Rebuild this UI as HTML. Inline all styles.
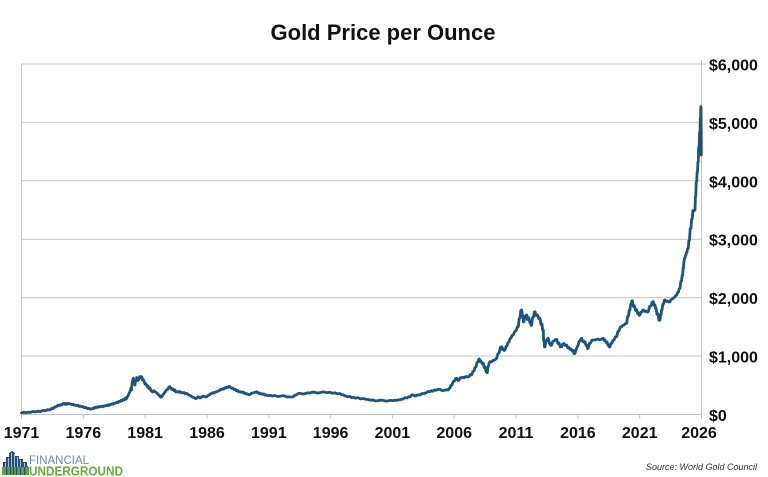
<!DOCTYPE html>
<html>
<head>
<meta charset="utf-8">
<style>
html,body{margin:0;padding:0;background:#fff;}
body{width:768px;height:477px;overflow:hidden;}
svg{display:block;}
</style>
</head>
<body>
<svg width="768" height="477" viewBox="0 0 768 477" xmlns="http://www.w3.org/2000/svg" font-family="'Liberation Sans', Arial, sans-serif">
  <rect x="0" y="0" width="768" height="477" fill="#fff"/>
  <!-- Title -->
  <text x="383" y="40" text-anchor="middle" font-size="22" font-weight="bold" fill="#111">Gold Price per Ounce</text>

  <!-- gridlines -->
  <g stroke="#c4c4c4" stroke-width="1">
    <line x1="21.5" y1="64" x2="706" y2="64"/>
    <line x1="21.5" y1="122.4" x2="701.5" y2="122.4"/>
    <line x1="21.5" y1="180.8" x2="701.5" y2="180.8"/>
    <line x1="21.5" y1="239.2" x2="701.5" y2="239.2"/>
    <line x1="21.5" y1="297.6" x2="701.5" y2="297.6"/>
    <line x1="21.5" y1="356" x2="701.5" y2="356"/>
    <line x1="21.5" y1="414.5" x2="701.5" y2="414.5"/>
    <line x1="21.5" y1="64" x2="21.5" y2="418.5"/>
    <line x1="701.5" y1="60" x2="701.5" y2="418.5"/>
  </g>
  <!-- x ticks -->
  <g stroke="#c4c4c4" stroke-width="1">
    <line x1="83.3" y1="414.5" x2="83.3" y2="418.5"/>
    <line x1="145.1" y1="414.5" x2="145.1" y2="418.5"/>
    <line x1="207" y1="414.5" x2="207" y2="418.5"/>
    <line x1="268.8" y1="414.5" x2="268.8" y2="418.5"/>
    <line x1="330.6" y1="414.5" x2="330.6" y2="418.5"/>
    <line x1="392.4" y1="414.5" x2="392.4" y2="418.5"/>
    <line x1="454.2" y1="414.5" x2="454.2" y2="418.5"/>
    <line x1="516" y1="414.5" x2="516" y2="418.5"/>
    <line x1="577.9" y1="414.5" x2="577.9" y2="418.5"/>
    <line x1="639.7" y1="414.5" x2="639.7" y2="418.5"/>
  </g>

  <!-- series -->
  <polyline fill="none" stroke="#1c5480" stroke-width="2.8" stroke-linejoin="round" stroke-linecap="round" points="
21.5,413 24,412.2 26,412.8 28,412.1 30,412.5 33,411.5 35,411.9 38,411.2 40,411.7 43,410.4 45,410.8 48,409.6 50,410 52,408.2 53,408.6 55,406.8 56,407 58,405.2 59,405.8 60.5,404.6 61.7,405 63,403.5 64,404.1 65,403.4 66,404.5 67,403.3 68,403.9 69,403.5 70,404 72,404.6 73,404.2 74,405.2 75,405 77,405.8 78,405.3 79,406.4 80,406 82,406.9 83,406.5 84.5,407.8 86,407.5 87.5,408.6 89,408.3 90.5,409.2 91.7,409 93,408 94,408.4 95,407.3 96,407.5 97,406.9 98,407.4 99,406.5 100,406.7 102,406.3 103,406.7 104,405.8 105,406 107,405.2 108,405.6 109,404.6 110,405 112,403.8 113,404.3 114,403.2 115,403.5 117,402.2 118,402.6 119,401.4 120,401.7 121,400.4 122,400.9 123,399.6 124,400 125.5,397.8 126.2,399 126.7,398.3 127.5,396.5 128.5,395 129.2,393 130,391.7 131,388 131.5,390 132,384 132.5,381 132.8,380 133.3,378.3 133.8,382 134.2,383 135,385 135.5,380 136,381 136.7,377.5 137.3,378.3 138.2,380.5 139,379 139.8,376.5 140.5,377.8 141.7,376.7 142.5,380 143,379 144,381 145,384 145.5,383.5 146.7,385 147.5,387 148,386 149,388.5 150,388 151,390.8 151.5,390.5 152.5,392 153.3,391.7 154.2,390.9 155,391.8 156,392.3 157,393 158.5,394.8 159.5,395.5 160.5,397.2 161.7,396.7 162.5,395.5 163,394.5 164,393.5 165,392 166.5,390 167.5,389.5 168.8,387.2 170,386.7 171,388.8 171.5,388.5 172.3,389.6 173,389 174,390.6 175,390 175.8,391.9 176.7,391.7 178,392 179,391.4 180,392.4 181,392 182.5,393 184,392.5 185.5,393.8 186.7,393.3 188,394.5 189,395 190,395.6 191,396 192.5,397.2 194,397.5 195.5,398.6 196.7,398.3 198,396.9 199,397 200,398 201,397.5 202.5,396.2 204,396.4 205.5,397 206.7,396.7 208,395.5 209,395.2 210.5,393.8 212,393.5 213,392.6 214,393 215.5,391.9 216.7,391.7 218,391.1 219,390.8 220.5,389.4 222,389.5 223,388.6 224,389 225,387.7 226,388 227,387.1 228,387.5 229,386.4 230,386.7 231.5,388.3 232.5,388 233.8,389.4 235,389 236.2,390.7 237.5,390.5 238.8,391.9 240,391.7 241.5,392.4 243,392 244,393.2 245,393 246.3,394.1 247.5,393.8 248.8,394.8 250,394.5 251.5,393.2 253,393 254.8,392.3 256.7,391.7 258,393 259,392.8 260,393.9 261,393.5 262.5,394.4 264,394 265.3,395.2 266.7,395 268,395.6 270,395.4 272.5,396 275,395.5 277.5,396.5 280,396.3 282.5,395.7 285,396 287,397 289,396.8 291,397.1 293.3,396.7 294.5,395.5 296,395 298,393.6 300,393.3 302.5,394 305,393.7 307.5,392.8 310,393 312.5,392.1 315,392.4 317.5,393 320,392.7 322.5,391.9 325,392.2 327.5,392.6 330,392.3 332.5,393.2 335,392.8 337.5,393.8 340,393.5 341.5,394.9 343,394.6 344.5,395.7 346,396 348,396.8 350,396.5 351.5,397.6 353.3,397.3 355.5,398.2 358,397.6 360.5,398.9 363,398.5 365.5,399.2 368,399.5 370.5,400.2 373.3,400 375.5,400.9 378,400.6 380.5,400.1 383,400.3 385.5,401.1 388,400.9 390.5,400.4 393.3,400.7 395,400.1 397,400.5 398.5,399.7 400,400 401.5,399 403,399.2 405,397.6 407,398 408.5,396.9 410,396.8 411.7,394.9 413.3,395 414.7,396 416,395.8 418,394.8 420,395 421.5,393.8 423,393.5 424.5,393.4 426,393 428,391.5 430,391.7 431.5,390.7 433,391.2 434.5,390 436,390.2 438,389.4 440,389.3 442,390.6 444,390.4 446,389.8 448.3,390 449.2,388.4 450,388 451,385.2 452,385 453.3,381.5 454.5,381 455.6,378.5 456.7,378.3 458,380.5 459,380 460,377.8 461,378 462.5,377.2 464,377.8 465.5,376.6 466.7,376.7 468,376.9 469,376.5 470.5,374.5 471.7,375 472.8,371.5 474,371 475,367.4 476,367 477,362.5 478,362 478.7,359.5 479.3,359 480.2,361.5 481,361 482.2,363.8 483.3,363.3 484.2,367.5 485,367 486.2,372 487.3,372.7 487.9,367 488.5,366 489.3,362.5 490,361.7 491.5,361.8 493,360.5 494.8,359.9 496.7,358.3 497.8,354 499,353 500.4,347.5 501.7,346.7 502.6,349.5 503.5,349 504.2,350.5 505,350 506,346.5 507,346 508,342.5 509,342 510,338.6 511,338 512.1,335.3 513.3,335 514.7,331.5 516,331 517.2,327 518.3,326.7 519.2,318.5 520,318 520.8,310.5 521.7,310 522.4,316.5 523,316 523.5,322 524,321.7 524.8,316.5 525.5,316 526.1,315.4 526.7,315 527.4,319.5 528,319 528.5,317.6 529,318 529.8,322.5 530.5,322 531.1,325.4 531.7,325 532.6,317.5 533.5,317 534.2,312.2 535,311.7 536.2,315.5 537.5,315 538.8,318.8 540,318.3 541,324.5 542,324 542.7,330.4 543.3,330 543.6,340.5 544,340 544.5,347 545,346.7 545.8,341.5 546.5,341 547.4,338.8 548.3,338.3 549.2,343.4 550,343 550.8,345.4 551.7,345 552.8,341.4 554,341 555.3,339.7 556.7,339.3 557.8,343.4 559,343 560.3,347 561.7,346.7 562.8,343.9 564,343.5 565.3,345.4 566.7,345 567.8,347.9 569,347.5 570,349.4 571,349 572,350.9 573,350.5 574,353.7 575,353.3 575.8,349.4 576.5,349 577.3,346.4 578,346 579,341.4 580,341 580.9,338.7 581.7,338.3 582.6,341.4 583.5,341 584.3,342.4 585,342 586,345.4 587,345 587.6,348.7 588.3,348.3 589.4,343.4 590.5,343 591.9,340.4 593.3,340 594.6,340 596,339.6 597,339.4 598,339 599.5,339.8 601,339.4 602.2,338.7 603.3,338.3 604.2,340.4 605,340 606,342.4 607,342 608,345.4 609,345 609.5,347 610,346.7 611,343.4 612,343 613,340.4 614,340 615.3,337 616.7,336.7 617.8,331.4 619,331 620.3,327 621.7,326.7 622.8,325.4 624,325 625.3,323.7 626.7,323.3 627.6,316.4 628.5,316 629.2,310.4 630,310 630.6,304.4 631.3,304 631.8,301 632.3,300.7 633.4,306.4 634.5,306 635.6,310.4 636.7,310 637.6,313.4 638.5,313 639.2,315.4 640,315 640.8,312.4 641.5,312 642.4,310.4 643.3,310 644.6,311.4 646,311 647.2,312.1 648.3,311.7 649.6,306.4 651,306 652.2,302.1 653.3,301.7 654.2,305.4 655,305 655.5,308.4 656,308 657,314.4 658,314 659,320.4 660,320 660.5,315.4 661,315 661.5,310.4 662,310 662.8,304.4 663.5,304 664.3,300.4 665,300 666.2,301.4 667.5,301 668.8,302.1 670,301.7 670.8,299.9 671.5,299.5 672.4,298.7 673.3,298.3 674.2,297.4 675,297 675.8,295.4 676.7,295 677.6,292.4 678.5,292 679.2,288.7 680,288.3 680.8,281.4 681.5,281 682.1,275.4 682.7,275 683.1,268.4 683.5,268 683.8,262 684,261.7 684.5,258.4 685,258 685.5,255.4 686,255 686.5,252.4 687,252 687.6,248.7 688.3,248.3 688.9,240.4 689.5,240 690.2,228.7 691,228.3 691.6,219.4 692.2,219 692.8,210.9 693.3,210.5 693.7,211.2 694.2,210.8 694.6,210.4 695,210 695.4,196.4 695.8,196 696.2,182.1 696.7,181.7 697.1,172.4 697.5,172 697.9,162.1 698.3,161.7 698.7,147.4 699.2,147 699.6,132.1 700,131.7 700.3,118.4 700.6,118 700.8,107 701,106.7 701.2,130 701.3,155 701.1,145 701,140"/>

  <!-- Y axis labels -->
  <g font-size="16" font-weight="bold" fill="#111">
    <text x="709" y="70.5">$6,000</text>
    <text x="709" y="128.9">$5,000</text>
    <text x="709" y="187.3">$4,000</text>
    <text x="709" y="245.7">$3,000</text>
    <text x="709" y="304.1">$2,000</text>
    <text x="709" y="362.5">$1,000</text>
    <text x="709" y="421">$0</text>
  </g>

  <!-- X axis labels -->
  <g font-size="16" font-weight="bold" fill="#111" text-anchor="middle">
    <text x="21.5" y="438">1971</text>
    <text x="83.3" y="438">1976</text>
    <text x="145.1" y="438">1981</text>
    <text x="207" y="438">1986</text>
    <text x="268.8" y="438">1991</text>
    <text x="330.6" y="438">1996</text>
    <text x="392.4" y="438">2001</text>
    <text x="454.2" y="438">2006</text>
    <text x="516" y="438">2011</text>
    <text x="577.9" y="438">2016</text>
    <text x="639.7" y="438">2021</text>
    <text x="699" y="438">2026</text>
  </g>

  <!-- Logo -->
  <g>
    <polygon points="3,475 3,462 6,462 6,457 9,457 9,453 12,451 15,453 15,456 19,456 19,459 23,459 23,462 27,462 27,466 28,466 28,475" fill="#1f4f7a"/>
    <g stroke="#ffffff" stroke-width="0.8" opacity="0.8">
      <line x1="5.5" y1="463" x2="5.5" y2="467"/>
      <line x1="8.5" y1="458" x2="8.5" y2="467"/>
      <line x1="11.5" y1="453" x2="11.5" y2="467"/>
      <line x1="14.5" y1="454" x2="14.5" y2="467"/>
      <line x1="17.5" y1="457" x2="17.5" y2="467"/>
      <line x1="20.5" y1="460" x2="20.5" y2="467"/>
      <line x1="24.5" y1="463" x2="24.5" y2="467"/>
    </g>
    <rect x="2" y="467" width="27" height="8" fill="#5ea33a"/>
    <g fill="#1f4f7a">
      <rect x="6" y="467" width="1.2" height="8"/>
      <rect x="10" y="467" width="1.2" height="8"/>
      <rect x="13" y="467" width="1.2" height="8"/>
      <rect x="16" y="467" width="1.2" height="8"/>
      <rect x="20" y="467" width="1.2" height="8"/>
      <rect x="24" y="467" width="1.2" height="8"/>
    </g>
    <text x="29" y="464" font-size="11.5" fill="#6f8aa8" textLength="60" lengthAdjust="spacingAndGlyphs">FINANCIAL</text>
    <text x="29" y="475.5" font-size="12.5" font-weight="bold" fill="#6aa93a" textLength="94" lengthAdjust="spacingAndGlyphs">UNDERGROUND</text>
  </g>

  <!-- Source -->
  <text x="646" y="470" font-size="9.5" font-style="italic" fill="#333" textLength="111" lengthAdjust="spacingAndGlyphs">Source: World Gold Council</text>
</svg>
</body>
</html>
